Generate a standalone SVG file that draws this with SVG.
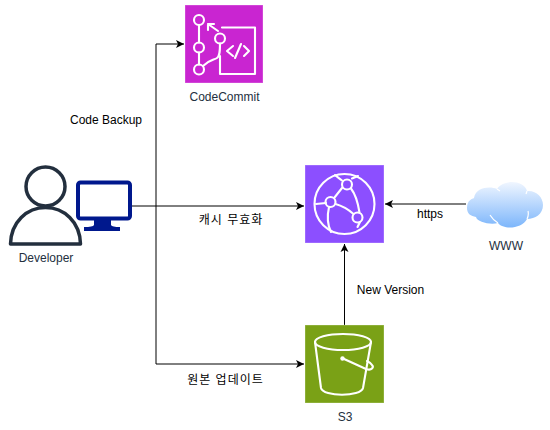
<svg xmlns="http://www.w3.org/2000/svg" width="550" height="430" viewBox="0 0 550 430">
<defs>
<marker id="arr" markerUnits="userSpaceOnUse" markerWidth="10" markerHeight="10" refX="9" refY="5" orient="auto"><path d="M1,1 L9,5 L1,9 L3,5 Z" fill="#000"/></marker>
<linearGradient id="cloud" x1="0" y1="0" x2="0" y2="1"><stop offset="0" stop-color="#f0f6ff"/><stop offset="1" stop-color="#7db6fb"/></linearGradient>
</defs>
<style>
text{font-family:"Liberation Sans",Arial,"Noto Sans CJK KR",sans-serif;font-size:12px;text-anchor:middle}
.lab{fill:#232f3e}
.ko{letter-spacing:1px}
.c{fill:none;stroke:#000;stroke-width:1}
.w{fill:none;stroke:#fff;stroke-width:2.100;stroke-linecap:round;stroke-linejoin:round}
.box{stroke:#fff;stroke-opacity:.3;stroke-width:1}
</style>
<rect width="550" height="430" fill="#fff"/>
<g id="connectors">
<path class="c" d="M131,206 H304" marker-end="url(#arr)"/>
<path class="c" d="M156,206 V44 H184" marker-end="url(#arr)"/>
<path class="c" d="M156,206 V364 H304" marker-end="url(#arr)"/>
<path class="c" d="M344.500,325 V244" marker-end="url(#arr)"/>
<path class="c" d="M466,204 H385" marker-end="url(#arr)"/>
<text x="106" y="124">Code Backup</text>
<text class="ko" x="231" y="224">캐시 무효화</text>
<text class="ko" x="225.500" y="384">원본 업데이트</text>
<text x="390.500" y="294">New Version</text>
<text x="430" y="218">https</text>
</g>
<g id="developer">
<circle cx="45.500" cy="186.500" r="19.500" fill="#fff" stroke="#232f3e" stroke-width="3.500"/>
<path d="M10.500,244 C11,222 27,207.500 45.500,207.500 C64,207.500 80,222 80.500,244 Z" fill="#fff" stroke="#232f3e" stroke-width="3.500" stroke-linejoin="round"/>
<text class="lab" x="46" y="262">Developer</text>
</g>
<g id="monitor">
<rect x="78" y="182.500" width="52" height="36" rx="2.500" fill="#fff" stroke="#00188d" stroke-width="4"/>
<path d="M94,220 H111 V225 Q112,227 120,227 V231 H84 V227 Q93,227 94,225 Z" fill="#00188d"/>
</g>
<g id="codecommit">
<rect class="box" x="185" y="5" width="78" height="78" fill="#c925d1"/>
<g class="w">
<circle cx="199" cy="20" r="5"/><circle cx="199" cy="47.500" r="5"/><circle cx="199" cy="69.500" r="5"/><circle cx="220" cy="38.500" r="5"/>
<path d="M199,25 V42.500 M199,52.500 V64.500"/>
<path d="M203,66 C209,60 214,60 217,58 C220,56 220,50 220,43.500"/>
<path d="M220,56 V74 H255 V27.500 H222"/>
<path d="M218,31 L208,24 M208,24 V30 M208,24 H214"/>
<path d="M233,46 L227,51 L233,56 M244,46 L249,51 L244,56 M241,44 L235,58"/>
</g>
<text class="lab" x="224.500" y="101">CodeCommit</text>
</g>
<g id="cloudfront">
<rect class="box" x="305" y="165" width="79" height="78" fill="#8c4fff"/>
<g class="w">
<circle cx="344.500" cy="204" r="30"/>
<circle cx="347" cy="184.500" r="5"/><circle cx="330.500" cy="202" r="5"/><circle cx="357.500" cy="217.500" r="5"/>
<path d="M342,188 L334.500,197.500 M335.500,204 C343,206 349,210 353.500,214 M351,188.500 C356,195 358,203 359.500,212.500 M326,203 L316,204 M329,207 C327,216 328,226 331,232 M352,178.500 L358,176 M342,180.500 C339,178 337,177 335,175 M360,222 L357.500,227"/>
</g>
</g>
<g id="s3">
<rect class="box" x="305" y="325" width="79" height="78" fill="#7aa116"/>
<g class="w">
<ellipse cx="343" cy="342" rx="28" ry="8"/>
<path d="M315,342 L321,388 C323,397 361,397 363,388 L371,342"/>
<path d="M343,358.500 L366,369 C372,371 374,367 372,365 C371,363 369,362 367,361"/>
</g>
<circle cx="342.500" cy="358.500" r="2.200" fill="#fff"/>
<text class="lab" x="345" y="421">S3</text>
</g>
<g id="www">
<path d="M467,208 C467,200 472,199 474,198 C476,187 490,186 497,189 C503,179 524,180 527,191 C536,190 543,197 543,205 C543,214 535,219 527,219 C522,229 503,230 498,223 C490,225 477,222 476,217 C471,216 467,214 467,208 Z" fill="url(#cloud)"/>
<path d="M490,215 Q493,220 498,223 M527,219 Q529,215 528,211 M527,191 L526,194 M497,189 L500,191" fill="none" stroke="#fff" stroke-width="1.200"/>
<text class="lab" x="506" y="250">WWW</text>
</g>
</svg>
